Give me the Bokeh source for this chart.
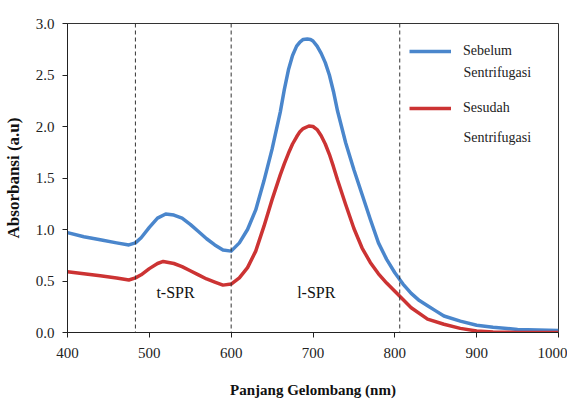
from bokeh.plotting import figure
from bokeh.models import Span, Legend, LegendItem, FixedTicker, NumeralTickFormatter, ColumnDataSource, Label
from bokeh.core.properties import value
from bokeh.embed import file_html
from bokeh.resources import INLINE

# Data
wl_before = [400, 420, 440, 460, 475, 483, 490, 500, 510, 520, 530, 540, 550, 560, 570, 580, 590, 600,
             610, 620, 630, 640, 650, 660, 665, 670, 675, 680, 684, 688, 693, 697, 700, 705, 710, 715, 720, 725,
             730, 740, 750, 760, 770,
             780, 790, 800, 810, 820, 830, 840, 850, 860, 880, 900, 920, 950, 1000]
abs_before = [0.97, 0.93, 0.90, 0.87, 0.85, 0.87, 0.92, 1.02, 1.11, 1.15, 1.14, 1.11, 1.05, 0.98, 0.91, 0.85, 0.80, 0.79,
              0.87, 1.00, 1.19, 1.47, 1.78, 2.14, 2.36, 2.55, 2.69, 2.78, 2.82, 2.845, 2.85, 2.845, 2.83, 2.78, 2.71, 2.62, 2.50, 2.34,
              2.15, 1.84, 1.58, 1.34, 1.10,
              0.87, 0.71, 0.58, 0.47, 0.38, 0.31, 0.26, 0.21, 0.16, 0.11, 0.07, 0.05, 0.03, 0.02]

wl_after = [400, 420, 440, 460, 475, 483, 490, 500, 510, 517, 530, 540, 550, 560, 570, 580, 590, 600,
            610, 620, 630, 640, 650, 660, 665, 670, 675, 680, 684, 688, 695, 700, 705, 710, 715, 720, 725,
            730, 740, 750, 760, 770,
            780, 790, 800, 810, 820, 840, 860, 880, 900, 920, 950, 1000]
abs_after = [0.59, 0.57, 0.55, 0.53, 0.51, 0.53, 0.56, 0.62, 0.67, 0.69, 0.67, 0.64, 0.60, 0.56, 0.52, 0.49, 0.46, 0.47,
             0.53, 0.63, 0.79, 1.03, 1.29, 1.53, 1.64, 1.74, 1.83, 1.90, 1.95, 1.98, 2.005, 2.00, 1.97, 1.91, 1.83, 1.73, 1.61,
             1.48, 1.24, 1.01, 0.82, 0.68,
             0.57, 0.48, 0.40, 0.32, 0.24, 0.13, 0.08, 0.04, 0.015, 0.005, 0.0, 0.0]

dividers = [483, 600, 806]
region_labels = ["t-SPR", "l-SPR"]
region_x = [532, 704]
region_y = [0.39, 0.39]
series_names = ["Sebelum", "Sesudah"]
series_suffix = "Sentrifugasi"
x_ticks = [400, 500, 600, 700, 800, 900, 1000]
y_ticks = [0.0, 0.5, 1.0, 1.5, 2.0, 2.5, 3.0]

FONT = "Liberation Serif"

p = figure(width=567, height=400, x_range=(400, 1000), y_range=(0, 3),
           output_backend="svg", toolbar_location=None,
           min_border_left=67, min_border_right=9, min_border_top=23, min_border_bottom=10)
p.xgrid.visible = False
p.ygrid.visible = False
p.outline_line_color = "#333333"
p.outline_line_width = 1

for ax in (p.xaxis[0], p.yaxis[0]):
    ax.axis_line_color = "#222222"
    ax.major_tick_line_color = "#222222"
    ax.major_tick_in = 0
    ax.major_tick_out = 5
    ax.minor_tick_line_color = None
    ax.major_label_text_font = FONT
    ax.major_label_text_font_size = "15px"
    ax.major_label_text_color = "#222222"
    ax.axis_label_text_font = FONT
    ax.axis_label_text_font_style = "bold"
    ax.axis_label_text_color = "#111111"

p.xaxis.axis_label_text_font_size = "15px"
p.yaxis.axis_label_text_font_size = "17px"
p.xaxis.ticker = FixedTicker(ticks=x_ticks)
p.yaxis.ticker = FixedTicker(ticks=y_ticks)
p.yaxis.formatter = NumeralTickFormatter(format="0.0")
p.xaxis.axis_label = "Panjang Gelombang (nm)"
p.yaxis.axis_label = "Absorbansi (a.u)"
p.xaxis.major_label_standoff = 10
p.xaxis.axis_label_standoff = 21
p.yaxis.major_label_standoff = 8
p.yaxis.axis_label_standoff = 10

for d in dividers:
    p.add_layout(Span(location=d, dimension="height", line_color="#333333",
                      line_width=1, line_dash="4 3"))

r1 = p.line(wl_before, abs_before, line_color="#4A86CC", line_width=3.5, line_join="round")
r2 = p.line(wl_after, abs_after, line_color="#CC3333", line_width=3.5, line_join="round")

src = ColumnDataSource(dict(x=region_x, y=region_y, t=region_labels))
p.text(x="x", y="y", text="t", source=src, text_font=value(FONT),
       text_font_size="16px", text_align="center", text_baseline="middle", text_color="#111111")

legend = Legend(items=[LegendItem(label=series_names[0], renderers=[r1]),
                       LegendItem(label=series_names[1], renderers=[r2])],
                location=(342, 214), background_fill_alpha=0, border_line_color=None,
                label_text_font=FONT, label_text_font_size="14px", label_text_color="#222222",
                glyph_width=42, spacing=37, label_standoff=12)
p.add_layout(legend)

for ys in (260, 195):
    p.add_layout(Label(x=396, y=ys, x_units="screen", y_units="screen", text=series_suffix,
                       text_font=FONT, text_font_size="14px", text_color="#222222",
                       text_baseline="middle"))

open("out.html", "w").write(file_html(p, INLINE))
